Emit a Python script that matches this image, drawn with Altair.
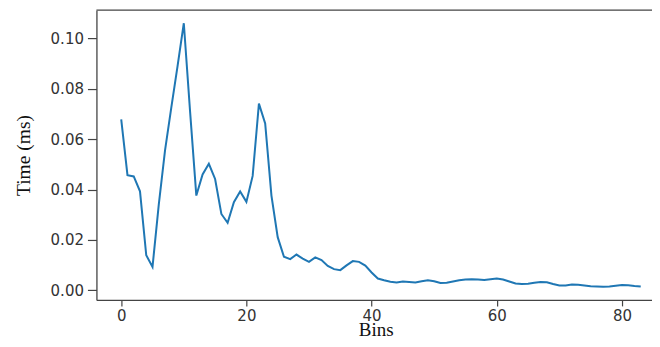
import altair as alt
import pandas as pd

bins = list(range(84))
times = [
    0.0678, 0.0457, 0.0452, 0.0393, 0.0139, 0.0093, 0.0340, 0.0555, 0.0725, 0.0890,
    0.1060, 0.0710, 0.0376, 0.0460, 0.0502, 0.0442, 0.0303, 0.0268, 0.0350, 0.0392,
    0.0351, 0.0454, 0.0741, 0.0662, 0.0376, 0.0211, 0.0133, 0.0124, 0.0142, 0.0126,
    0.0113, 0.0131, 0.0120, 0.0097, 0.0084, 0.0080, 0.0099, 0.0116, 0.0113, 0.0098,
    0.0071, 0.0047, 0.0040, 0.0034, 0.0031, 0.0035, 0.0033, 0.0031, 0.0036, 0.0040,
    0.0036, 0.0029, 0.0030, 0.0035, 0.0040, 0.0043, 0.0044, 0.0043, 0.0041, 0.0044,
    0.0047, 0.0043, 0.0035, 0.0027, 0.0025, 0.0026, 0.0030, 0.0033, 0.0032, 0.0025,
    0.0019, 0.0019, 0.0023, 0.0022, 0.0019, 0.0016, 0.0015, 0.0014, 0.0015, 0.0018,
    0.0021, 0.0020, 0.0017, 0.0015,
]
x_ticks = [0, 20, 40, 60, 80]
y_ticks = [0.00, 0.02, 0.04, 0.06, 0.08, 0.10]

df = pd.DataFrame({"bin": bins, "time": times})

tick_font = "DejaVu Sans"
title_font = "Liberation Serif"
frame_color = "#444"

W, H = 556, 290

line = (
    alt.Chart(df)
    .mark_line(color="#1f77b4", strokeWidth=2)
    .encode(
        x=alt.X(
            "bin:Q",
            scale=alt.Scale(domain=[-3.96, 84.8], nice=False, zero=False),
            axis=alt.Axis(
                values=x_ticks,
                title="Bins",
                format="d",
                grid=False,
                domain=True,
                domainColor=frame_color,
                domainWidth=1.3,
                tickSize=6,
                tickColor=frame_color,
                tickWidth=1.2,
                labelFont=tick_font,
                labelFontSize=15,
                labelColor="#333",
                labelPadding=3,
                titleFont=title_font,
                titleFontSize=19,
                titleFontWeight="normal",
                titleColor="#111",
                titleX=279.5,
                titleY=36,
                titleBaseline="alphabetic",
                titleAlign="center",
            ),
        ),
        y=alt.Y(
            "time:Q",
            scale=alt.Scale(domain=[-0.0038, 0.1112], nice=False, zero=False),
            axis=alt.Axis(
                values=y_ticks,
                title="Time (ms)",
                format=".2f",
                grid=False,
                domain=True,
                domainColor=frame_color,
                domainWidth=1.3,
                tickSize=9,
                tickColor=frame_color,
                tickWidth=1.2,
                labelFont=tick_font,
                labelFontSize=15,
                labelColor="#333",
                labelPadding=4,
                titleFont=title_font,
                titleFontSize=19.5,
                titleFontWeight="normal",
                titleColor="#111",
                titleX=-66.5,
                titleY=145,
                titleAngle=-90,
                titleBaseline="alphabetic",
                titleAlign="center",
            ),
        ),
    )
)

top_border = (
    alt.Chart(pd.DataFrame({"edge": [0]}))
    .mark_rule(color=frame_color, strokeWidth=1.3)
    .encode(x=alt.value(0), x2=alt.value(W + 10), y=alt.value(0))
)

chart = (
    alt.layer(line, top_border)
    .properties(
        width=W,
        height=H,
        autosize=alt.AutoSizeParams(type="none"),
        padding={"left": 88.5, "top": 2, "right": 0, "bottom": 39},
    )
    .configure_view(stroke=None)
)

chart.save("out.html", embed_options={"renderer": "svg", "actions": False})
